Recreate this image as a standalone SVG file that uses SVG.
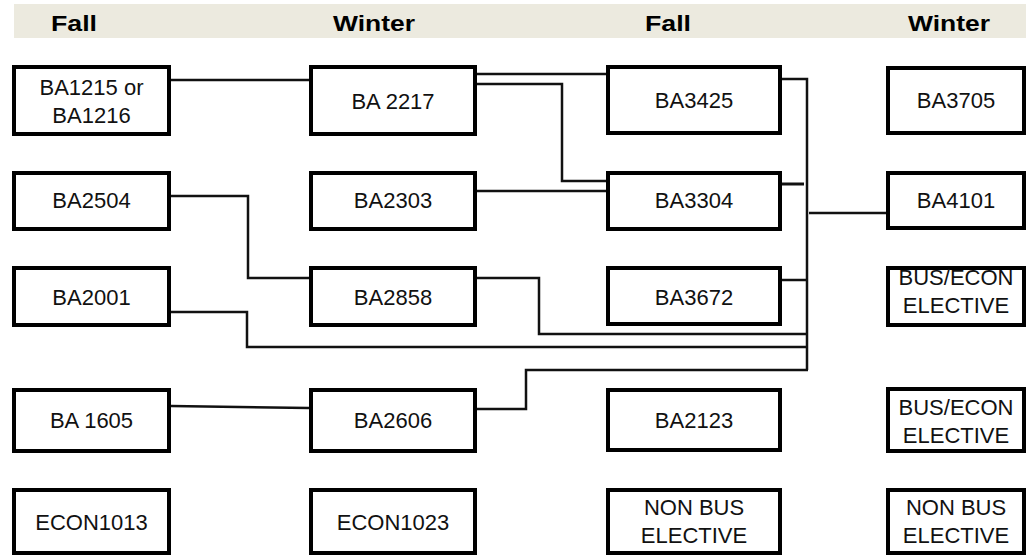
<svg xmlns="http://www.w3.org/2000/svg" width="1026" height="556" viewBox="0 0 1026 556">
  <style>
    .box { fill: #ffffff; stroke: #000000; stroke-width: 4; }
    .lbl { font-family: "Liberation Sans", Arial, sans-serif; font-size: 22px; fill: #111111; text-anchor: middle; }
    .hdr { font-family: "Liberation Sans", Arial, sans-serif; font-size: 22px; font-weight: bold; fill: #000000; text-anchor: middle; }
    .conn path { fill: none; stroke: #111111; stroke-width: 2.5; stroke-linejoin: miter; }
  </style>
  <rect width="1026" height="556" fill="#ffffff"/>
  <g id="header">
    <rect x="14" y="4" width="1012" height="34" fill="#ECEADF"/>
    <text class="hdr" x="74" y="30.5" textLength="46" lengthAdjust="spacingAndGlyphs">Fall</text>
    <text class="hdr" x="374" y="30.5" textLength="82" lengthAdjust="spacingAndGlyphs">Winter</text>
    <text class="hdr" x="668" y="30.5" textLength="46" lengthAdjust="spacingAndGlyphs">Fall</text>
    <text class="hdr" x="949" y="30.5" textLength="82" lengthAdjust="spacingAndGlyphs">Winter</text>
  </g>
  <g id="connectors" class="conn">
    <path d="M171,80 H309"/>
    <path d="M171,196 H248 V278 H309"/>
    <path d="M171,312 H247 V347 H807"/>
    <path d="M171,406 L309,408"/>
    <path d="M477,74 H606"/>
    <path d="M477,84 H562 V181 H606"/>
    <path d="M477,191 H606"/>
    <path d="M782,79 H807 V370"/>
    <path d="M776,184 H804" style="stroke-width:3"/>
    <path d="M809,213 H886"/>
    <path d="M782,280 H807"/>
    <path d="M477,278 H539 V334 H807"/>
    <path d="M477,409 H526 V370 H808"/>
  </g>
  <g id="n-ba1215">
    <rect class="box" x="14" y="67" width="155" height="67"/>
    <text class="lbl" x="91.5" y="95">BA1215 or</text>
    <text class="lbl" x="91.5" y="123">BA1216</text>
  </g>
  <g id="n-ba2504">
    <rect class="box" x="14" y="173" width="155" height="56"/>
    <text class="lbl" x="91.5" y="208">BA2504</text>
  </g>
  <g id="n-ba2001">
    <rect class="box" x="14" y="268" width="155" height="57"/>
    <text class="lbl" x="91.5" y="305">BA2001</text>
  </g>
  <g id="n-ba1605">
    <rect class="box" x="14" y="390" width="155" height="61"/>
    <text class="lbl" x="91.5" y="428">BA 1605</text>
  </g>
  <g id="n-econ1013">
    <rect class="box" x="14" y="490" width="155" height="63"/>
    <text class="lbl" x="91.5" y="530">ECON1013</text>
  </g>
  <g id="n-ba2217">
    <rect class="box" x="311" y="67" width="164" height="67"/>
    <text class="lbl" x="393" y="109">BA 2217</text>
  </g>
  <g id="n-ba2303">
    <rect class="box" x="311" y="173" width="164" height="56"/>
    <text class="lbl" x="393" y="208">BA2303</text>
  </g>
  <g id="n-ba2858">
    <rect class="box" x="311" y="268" width="164" height="57"/>
    <text class="lbl" x="393" y="305">BA2858</text>
  </g>
  <g id="n-ba2606">
    <rect class="box" x="311" y="390" width="164" height="61"/>
    <text class="lbl" x="393" y="428">BA2606</text>
  </g>
  <g id="n-econ1023">
    <rect class="box" x="311" y="490" width="164" height="63"/>
    <text class="lbl" x="393" y="530">ECON1023</text>
  </g>
  <g id="n-ba3425">
    <rect class="box" x="608" y="67" width="172" height="66"/>
    <text class="lbl" x="694" y="108">BA3425</text>
  </g>
  <g id="n-ba3304">
    <rect class="box" x="608" y="173" width="172" height="56"/>
    <text class="lbl" x="694" y="208">BA3304</text>
  </g>
  <g id="n-ba3672">
    <rect class="box" x="608" y="268" width="172" height="56"/>
    <text class="lbl" x="694" y="305">BA3672</text>
  </g>
  <g id="n-ba2123">
    <rect class="box" x="608" y="390" width="172" height="60"/>
    <text class="lbl" x="694" y="428">BA2123</text>
  </g>
  <g id="n-nonbus1">
    <rect class="box" x="608" y="490" width="172" height="63"/>
    <text class="lbl" x="694" y="515">NON BUS</text>
    <text class="lbl" x="694" y="543">ELECTIVE</text>
  </g>
  <g id="n-ba3705">
    <rect class="box" x="888" y="68" width="136" height="65"/>
    <text class="lbl" x="956" y="108">BA3705</text>
  </g>
  <g id="n-ba4101">
    <rect class="box" x="888" y="173" width="136" height="55"/>
    <text class="lbl" x="956" y="208">BA4101</text>
  </g>
  <g id="n-buselec1">
    <rect class="box" x="888" y="268" width="136" height="57"/>
    <text class="lbl" x="956" y="285">BUS/ECON</text>
    <text class="lbl" x="956" y="313">ELECTIVE</text>
  </g>
  <g id="n-buselec2">
    <rect class="box" x="888" y="389" width="136" height="62"/>
    <text class="lbl" x="956" y="415">BUS/ECON</text>
    <text class="lbl" x="956" y="443">ELECTIVE</text>
  </g>
  <g id="n-nonbus2">
    <rect class="box" x="888" y="490" width="136" height="63"/>
    <text class="lbl" x="956" y="515">NON BUS</text>
    <text class="lbl" x="956" y="543">ELECTIVE</text>
  </g>
</svg>
